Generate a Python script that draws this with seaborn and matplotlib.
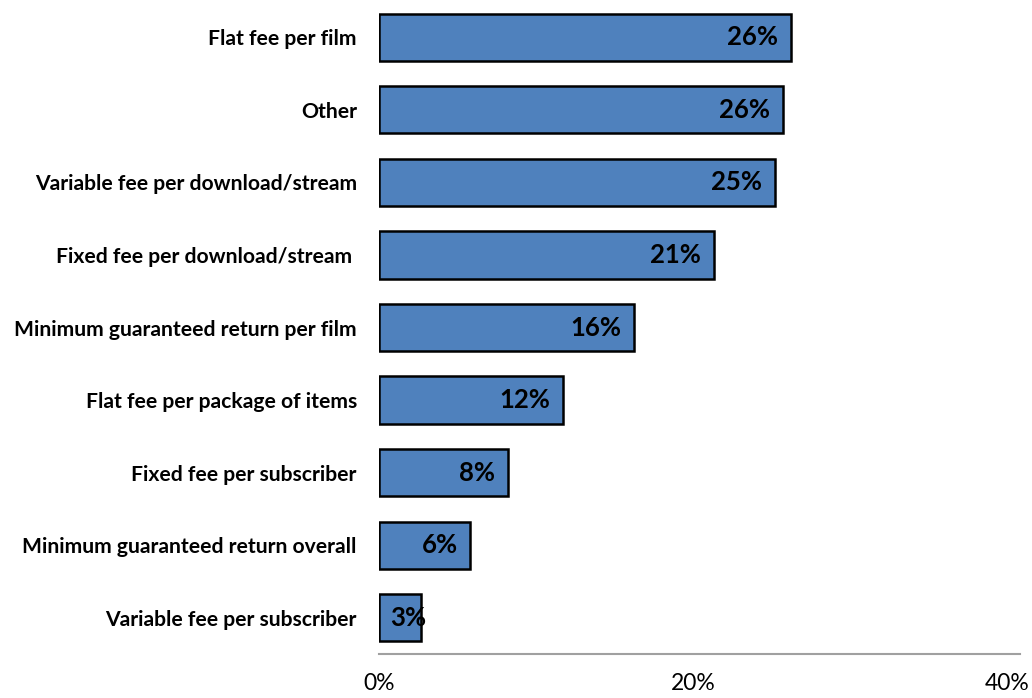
"""Horizontal bar chart of film licensing fee models."""

import matplotlib

matplotlib.use("Agg")
import matplotlib.pyplot as plt
import pandas as pd
import seaborn as sns

CATEGORIES = [
    "Flat fee per film",
    "Other",
    "Variable fee per download/stream",
    "Fixed fee per download/stream ",
    "Minimum guaranteed return per film",
    "Flat fee per package of items",
    "Fixed fee per subscriber",
    "Minimum guaranteed return overall",
    "Variable fee per subscriber",
]
SHARES = [26.2, 25.7, 25.2, 21.3, 16.2, 11.7, 8.2, 5.8, 2.7]
X_TICKS = [0, 20, 40]

BAR_COLOR = "#4F81BD"

sns.set_style("white")
plt.rcParams["font.family"] = ["Lato", "DejaVu Sans"]
plt.rcParams["text.color"] = "black"
plt.rcParams["xtick.color"] = "black"
plt.rcParams["ytick.color"] = "black"

df = pd.DataFrame({"category": CATEGORIES, "share": SHARES})

fig = plt.figure(figsize=(10.32, 6.98), dpi=100)
ax = fig.add_axes([379 / 1032, 1 - 654 / 698, (1020 - 379) / 1032, 653 / 698])

sns.barplot(
    data=df,
    x="share",
    y="category",
    orient="h",
    color=BAR_COLOR,
    saturation=1,
    width=0.65,
    edgecolor="black",
    linewidth=1.8,
    ax=ax,
)

ax.set_xlim(0, 40.8)
ax.set_ylim(len(CATEGORIES) - 0.5, -0.5)
ax.set_xticks(X_TICKS)
ax.set_xticklabels([f"{t}%" for t in X_TICKS], fontsize=16.5)
ax.tick_params(axis="x", length=0, pad=14)
ax.tick_params(axis="y", length=0, pad=16)
for lbl in ax.get_yticklabels():
    lbl.set_fontweight("bold")
    lbl.set_fontsize(15.2)
ax.set_xlabel("")
ax.set_ylabel("")

for side in ["top", "right", "left"]:
    ax.spines[side].set_visible(False)
ax.spines["bottom"].set_color("#a0a0a0")
ax.spines["bottom"].set_linewidth(1.5)

# value labels just inside the bar end, or from the bar start if too short
for i, v in enumerate(SHARES):
    label = f"{round(v)}%"
    if v < 5:
        ax.annotate(label, (0, i), xytext=(8, 0), textcoords="offset points",
                    ha="left", va="center", fontsize=18.5, fontweight="bold")
    else:
        ax.annotate(label, (v, i), xytext=(-9, 0), textcoords="offset points",
                    ha="right", va="center", fontsize=18.5, fontweight="bold")

fig.savefig("out.png", dpi=100)
